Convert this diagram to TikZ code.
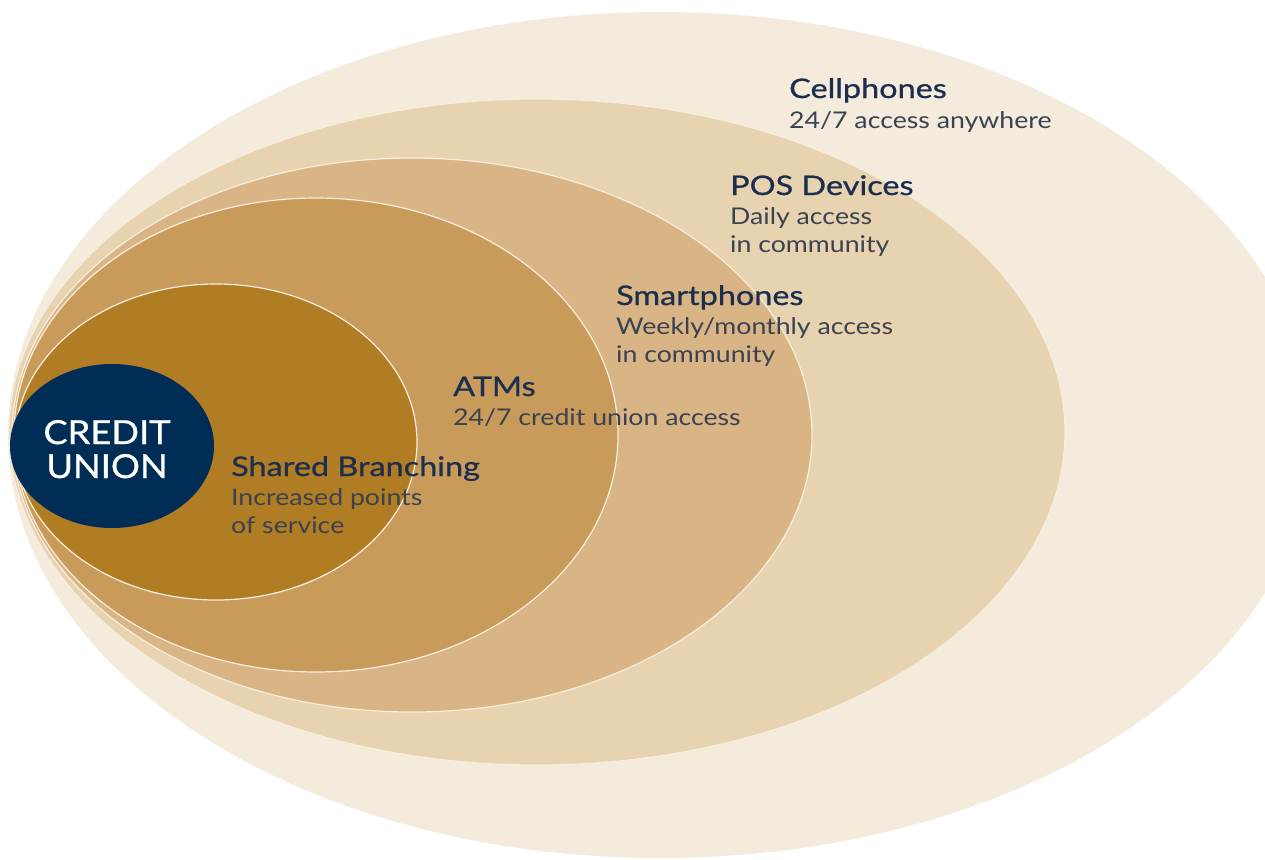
\documentclass[tikz,border=0pt]{standalone}
\usepackage{fontspec}
\setmainfont{Lato}[FakeStretch=1.16]
\newfontfamily\ttlfont{Lato}[FakeStretch=1.2, FakeBold=0.8]
\newfontfamily\cufont{Lato}[FakeStretch=1.1, FakeBold=0.8]
\definecolor{ringA}{HTML}{F4EBDD}
\definecolor{ringB}{HTML}{E8D3B1}
\definecolor{ringC}{HTML}{D9B585}
\definecolor{ringD}{HTML}{C89B5B}
\definecolor{ringE}{HTML}{B17D24}
\definecolor{cunavy}{HTML}{002D55}
\definecolor{edge}{HTML}{F6EEDF}
\definecolor{ttl}{HTML}{1C2E4D}
\definecolor{dsc}{HTML}{3A4150}
\tikzset{
  ring/.style={draw=edge, line width=1.2pt},
  title/.style={anchor=base west, inner sep=0pt, text=ttl, font=\ttlfont\fontsize{27}{30}\selectfont},
  desc/.style={anchor=base west, inner sep=0pt, text=dsc, font=\fontsize{23}{26}\selectfont},
  cu/.style={anchor=base, inner sep=0pt, text=white, font=\cufont\fontsize{33}{36}\selectfont}
}
\begin{document}
\begin{tikzpicture}[x=1pt,y=-1pt]
\useasboundingbox (0,0) rectangle (1265,859);
\clip (0,0) rectangle (1265,859);
\path[fill=ringA] (660,435) ellipse [x radius=652, y radius=423];
\path[ring, fill=ringB] (537,432) ellipse [x radius=528, y radius=333];
\path[ring, fill=ringC] (412,435) ellipse [x radius=400, y radius=277];
\path[ring, fill=ringD] (316,435) ellipse [x radius=302, y radius=237];
\path[ring, fill=ringE] (216,442) ellipse [x radius=201, y radius=158];
\path[fill=cunavy] (112,446) ellipse [x radius=102, y radius=82];
\node[cu] (cu1) at (107,444) {CREDIT};
\node[cu] (cu2) at (107,478) {UNION};
\node[title] (cellT) at (789,98) {Cellphones};
\node[desc] (cellD) at (789,128) {24/7 access anywhere};
\node[title] (posT) at (730,195) {POS Devices};
\node[desc] (posD1) at (730,224) {Daily access};
\node[desc] (posD2) at (730,252) {in community};
\node[title] (smT) at (616,305) {Smartphones};
\node[desc] (smD1) at (616,334) {Weekly/monthly access};
\node[desc] (smD2) at (616,362) {in community};
\node[title] (atmT) at (453,396) {ATMs};
\node[desc] (atmD) at (453,425) {24/7 credit union access};
\node[title] (sbT) at (231,476) {Shared Branching};
\node[desc] (sbD1) at (231,505) {Increased points};
\node[desc] (sbD2) at (231,533) {of service};
\end{tikzpicture}
\end{document}
